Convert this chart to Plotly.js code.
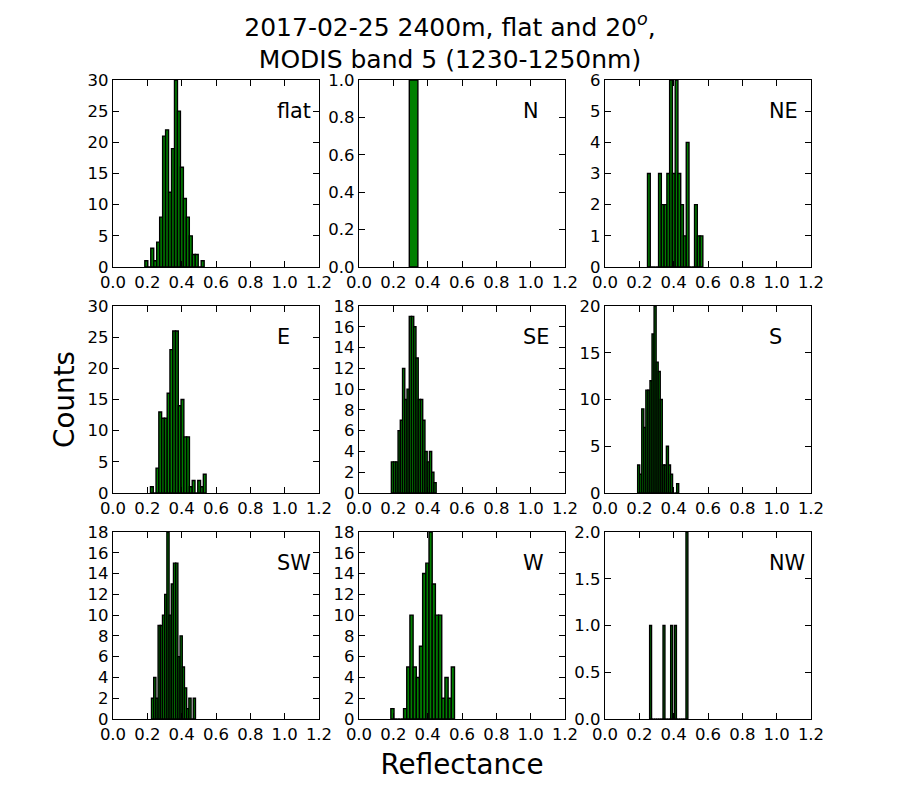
<!DOCTYPE html>
<html>
<head>
<meta charset="utf-8">
<script src="https://cdn.plot.ly/plotly-3.0.1.min.js"></script>
<style>html, body { margin: 0; background: #fff; }</style>
</head>
<body>
<div id="chart" style="width:900px;height:800px"></div>
<script>
const panelNames = ['flat', 'N', 'NE', 'E', 'SE', 'S', 'SW', 'W', 'NW'];

// histogram counts per bin
const flatCounts = [1, 0, 3, 1, 4, 8, 21, 22, 12, 19, 30, 25, 16, 11, 8, 5, 2, 2, 0, 1];
const nCounts = [1];
const neCounts = [3, 0, 0, 0, 3, 2, 2, 3, 6, 3, 6, 3, 2, 1, 4, 0, 0, 2, 1, 1];
const eCounts = [1, 0, 4, 13, 12, 12, 16, 23, 26, 26, 14, 15, 9, 9, 1, 2, 0, 2, 1, 3];
const seCounts = [3, 3, 3, 6, 7, 12, 9, 10, 17, 17, 16, 13, 9, 9, 7, 4, 3, 4, 2, 1];
const sCounts = [3, 2, 9, 7, 11, 11, 12, 17, 20, 14, 13, 10, 3, 3, 5, 3, 2, 0, 0, 1];
const swCounts = [2, 4, 2, 9, 9, 10, 12, 18, 10, 13, 15, 15, 6, 8, 5, 3, 1, 2, 0, 2];
const wCounts = [1, 0, 0, 0, 1, 5, 10, 5, 4, 7, 14, 15, 18, 13, 10, 10, 2, 4, 2, 5];
const nwCounts = [1, 0, 0, 0, 0, 0, 0, 1, 0, 0, 0, 1, 0, 1, 0, 0, 0, 0, 0, 2];
const allCounts = [flatCounts, nCounts, neCounts, eCounts, seCounts, sCounts, swCounts, wCounts, nwCounts];

// left edge of first bin and bin width (reflectance)
const binStart = [0.1854, 0.293, 0.2476, 0.2184, 0.1884, 0.1902, 0.2243, 0.1854, 0.26];
const binWidth = [0.01728, 0.05, 0.01612, 0.0162, 0.01305, 0.01196, 0.0128, 0.01854, 0.01114];

// y axis top and tick step
const yMax = [30, 1, 6, 30, 18, 20, 18, 18, 2];
const yStep = [5, 0.2, 1, 5, 2, 5, 2, 2, 0.5];
const yFormat = ['d', '.1f', 'd', 'd', 'd', 'd', 'd', 'd', '.1f'];

const xLeft = [113, 359, 605];
const yTop = [80, 306, 532];
const W = 900, H = 800, PW = 206, PH = 187;
const tickFont = { family: 'DejaVu Sans', size: 16.5, color: '#000' };
const labelFont = { family: 'DejaVu Sans', size: 27.8, color: '#000' };

const traces = [];
const layout = {
  width: W, height: H, autosize: false,
  margin: { l: 0, r: 0, t: 0, b: 0 },
  paper_bgcolor: '#fff', plot_bgcolor: '#fff',
  showlegend: false, barmode: 'overlay',
  font: { family: 'DejaVu Sans', color: '#000' },
  title: {
    text: '2017-02-25 2400m, flat and 20<sup><i>o</i></sup>,<br>MODIS band 5 (1230-1250nm)',
    font: { family: 'DejaVu Sans', size: 25, color: '#000' },
    x: 0.5, xanchor: 'center', xref: 'paper',
    y: 0.9555, yanchor: 'middle', yref: 'paper',
  },
  annotations: [],
};

panelNames.forEach((name, i) => {
  const ax = i === 0 ? '' : String(i + 1);
  const col = i % 3, row = Math.floor(i / 3);
  traces.push({
    type: 'bar', x0: binStart[i] + binWidth[i] / 2, dx: binWidth[i], y: allCounts[i],
    width: binWidth[i], xaxis: 'x' + ax, yaxis: 'y' + ax,
    marker: { color: '#008000', line: { color: '#000', width: 1.39 } },
    hovertemplate: name + ' %{x:.3f}<br>%{y}<extra></extra>',
  });
  const common = {
    showgrid: false, zeroline: false, showline: true, linecolor: '#000', linewidth: 1.39,
    mirror: 'allticks', ticks: 'inside', ticklen: 5.5, tickwidth: 0.7, tickcolor: '#000',
    tickfont: tickFont,
  };
  layout['xaxis' + ax] = {
    ...common, anchor: 'y' + ax, range: [0, 1.2], tick0: 0, dtick: 0.2, tickformat: '.1f',
    domain: [xLeft[col] / W, (xLeft[col] + PW) / W],
  };
  layout['yaxis' + ax] = {
    ...common, anchor: 'x' + ax, range: [0, yMax[i]], tick0: 0, dtick: yStep[i], tickformat: yFormat[i],
    domain: [1 - (yTop[row] + PH) / H, 1 - yTop[row] / H],
  };
  layout.annotations.push({
    text: name, xref: 'x' + ax, yref: 'y' + ax + ' domain', x: 0.943, y: 0.835,
    xanchor: 'left', yanchor: 'middle', showarrow: false,
    font: { family: 'DejaVu Sans', size: 20.8, color: '#000' },
  });
});

layout.yaxis4.title = { text: 'Counts', font: labelFont, standoff: 4 };
layout.xaxis8.title = { text: 'Reflectance', font: labelFont, standoff: 11 };

Plotly.newPlot('chart', traces, layout, { displayModeBar: false, responsive: false });
</script>
</body>
</html>
